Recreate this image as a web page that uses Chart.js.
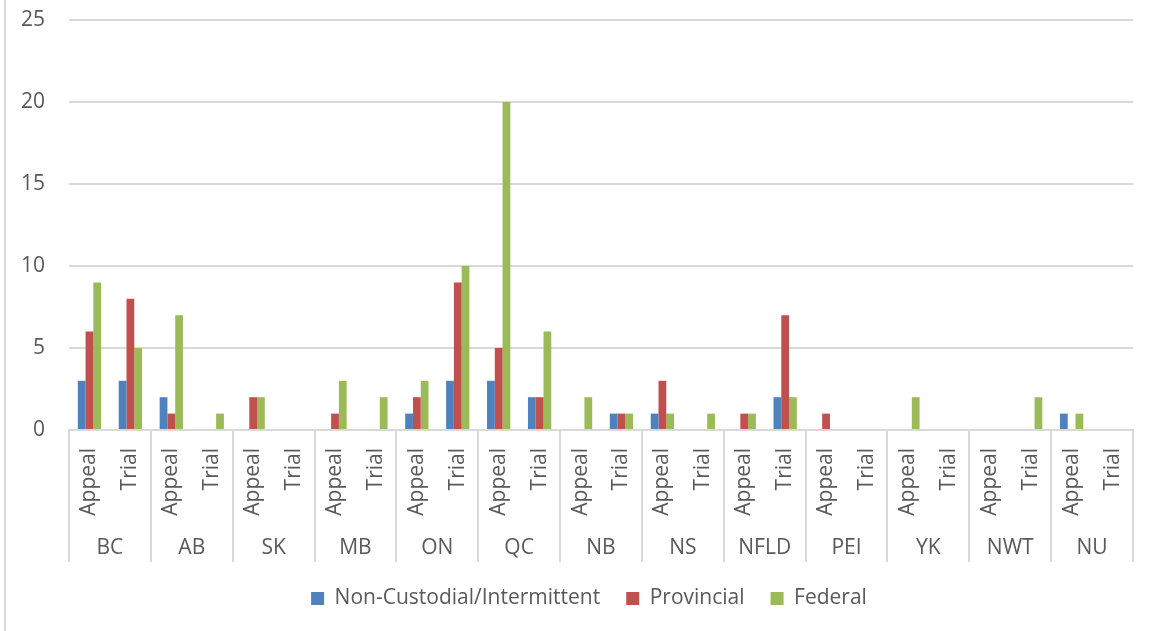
<!DOCTYPE html>
<html>
<head>
<meta charset="utf-8">
<script src="https://cdn.jsdelivr.net/npm/chart.js@4"></script>
<style>
  html, body { margin: 0; padding: 0; background: #fff; }
  #wrap { width: 1154px; height: 631px; position: relative; }
</style>
</head>
<body>
<div id="wrap"><canvas id="chart"></canvas></div>
<script>
// provinces and the two court levels under each
const provinces = ['BC', 'AB', 'SK', 'MB', 'ON', 'QC', 'NB', 'NS', 'NFLD', 'PEI', 'YK', 'NWT', 'NU'];
const levels = ['Appeal', 'Trial'];

// values per category, in order BC Appeal, BC Trial, AB Appeal, ...
const nonCustodial = [3, 3, 2, 0, 0, 0, 0, 0, 1, 3, 3, 2, 0, 1, 1, 0, 0, 2, 0, 0, 0, 0, 0, 0, 1, 0];
const provincial   = [6, 8, 1, 0, 2, 0, 1, 0, 2, 9, 5, 2, 0, 1, 3, 0, 1, 7, 1, 0, 0, 0, 0, 0, 0, 0];
const federal      = [9, 5, 7, 1, 2, 0, 3, 2, 3, 10, 20, 6, 2, 1, 1, 1, 1, 2, 0, 0, 2, 0, 0, 2, 1, 0];

const yTicks = [0, 5, 10, 15, 20, 25];

const labels = [];
provinces.forEach(() => levels.forEach(l => labels.push(l)));

const FONT = "'Open Sans', 'DejaVu Sans', sans-serif";
const SIZE = 21;
const TEXT = '#595959';
const GRID = '#d9d9d9';

// draws the white background, the frame line, province separators and names
const groupLabels = {
  id: 'groupLabels',
  afterLayout(chart) {
    // the original legend sits a little right of the canvas centre
    chart.legend.left += 20;
    chart.legend.right += 20;
  },
  beforeDraw(chart) {
    const ctx = chart.ctx;
    ctx.save();
    ctx.fillStyle = '#fff';
    ctx.fillRect(0, 0, chart.width, chart.height);
    ctx.strokeStyle = GRID;
    ctx.lineWidth = 2;
    ctx.beginPath();
    ctx.moveTo(5, 0);
    ctx.lineTo(5, chart.height);
    ctx.stroke();
    ctx.restore();
  },
  afterDraw(chart) {
    const ctx = chart.ctx;
    const x = chart.scales.x;
    const top = x.top;
    const bottom = top + 132;
    ctx.save();
    ctx.strokeStyle = GRID;
    ctx.lineWidth = 2;
    const step = (x.right - x.left) / provinces.length;
    for (let k = 0; k <= provinces.length; k++) {
      const px = Math.round(x.left + k * step);
      ctx.beginPath();
      ctx.moveTo(px, top);
      ctx.lineTo(px, bottom);
      ctx.stroke();
    }
    ctx.fillStyle = TEXT;
    ctx.font = SIZE + 'px ' + FONT;
    ctx.textAlign = 'center';
    ctx.textBaseline = 'middle';
    provinces.forEach((p, i) => {
      const cx = (x.getPixelForValue(i * 2) + x.getPixelForValue(i * 2 + 1)) / 2;
      ctx.fillText(p, cx, top + 118);
    });
    ctx.restore();
  }
};

new Chart(document.getElementById('chart'), {
  type: 'bar',
  data: {
    labels: labels,
    datasets: [
      { label: 'Non-Custodial/Intermittent', data: nonCustodial, backgroundColor: '#4F81BD' },
      { label: 'Provincial', data: provincial, backgroundColor: '#C0504D' },
      { label: 'Federal', data: federal, backgroundColor: '#9BBB59' }
    ]
  },
  options: {
    responsive: true,
    maintainAspectRatio: false,
    animation: false,
    datasets: { bar: { categoryPercentage: 0.57, barPercentage: 1.0 } },
    layout: { padding: { left: 5, right: 21, top: 20, bottom: 12 } },
    plugins: {
      legend: {
        position: 'bottom',
        labels: {
          boxWidth: 13,
          boxHeight: 13,
          padding: 26,
          color: TEXT,
          font: { family: FONT, size: SIZE }
        }
      },
      tooltip: { enabled: false }
    },
    scales: {
      x: {
        grid: { display: false },
        border: { display: true, color: GRID, width: 2 },
        ticks: {
          color: TEXT,
          font: { family: FONT, size: SIZE },
          minRotation: 90,
          maxRotation: 90,
          padding: 10,
          autoSkip: false
        },
        afterFit(scale) { scale.height = 132; }
      },
      y: {
        min: 0,
        max: 25,
        afterBuildTicks(scale) { scale.ticks = yTicks.map(v => ({ value: v })); },
        grid: { color: GRID, lineWidth: 2, drawTicks: false },
        border: { display: false },
        ticks: {
          color: TEXT,
          font: { family: FONT, size: SIZE },
          padding: 24
        },
        afterFit(scale) {
          scale.width = 64;
          scale.paddingTop = 0;
          scale.paddingBottom = 0;
        }
      }
    }
  },
  plugins: [groupLabels]
});
</script>
</body>
</html>
